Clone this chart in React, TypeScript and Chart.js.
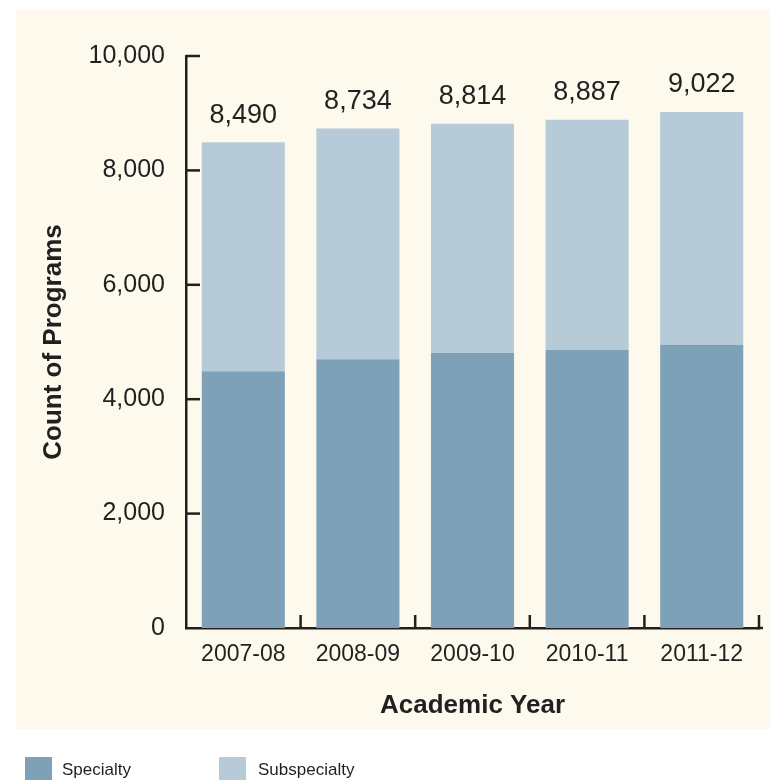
import React, { useEffect, useRef } from "react";
import { Chart, registerables } from "chart.js";

Chart.register(...registerables);

const categories = ["2007-08", "2008-09", "2009-10", "2010-11", "2011-12"];
const specialty = [4490, 4700, 4808, 4860, 4950];
const subspecialty = [4000, 4034, 4006, 4027, 4072];
const yTicks = [0, 2000, 4000, 6000, 8000, 10000];

const TEXT = "#231f20";
const FONT = "'Liberation Sans', Arial, Helvetica, sans-serif";
const SPEC_COLOR = "#7fa1b8";
const SUB_COLOR = "#b7cad7";
const BG = "#fdf9ed";

const decorPlugin = {
  id: "decor",
  beforeDraw(chart: any) {
    const ctx = chart.ctx;
    ctx.save();
    ctx.fillStyle = BG;
    ctx.fillRect(16, 10, 754, 719);
    ctx.restore();
  },
  afterDraw(chart: any) {
    const ctx = chart.ctx;
    const x = chart.scales.x;
    const y = chart.scales.y;
    ctx.save();
    ctx.strokeStyle = TEXT;
    ctx.lineWidth = 2.5;
    yTicks.forEach((v) => {
      if (v === 0) return;
      const py = y.getPixelForValue(v);
      ctx.beginPath();
      ctx.moveTo(x.left, py);
      ctx.lineTo(x.left + 14, py);
      ctx.stroke();
    });
    const n = categories.length;
    const w = (x.right - x.left) / n;
    for (let k = 1; k <= n; k++) {
      const px = x.left + k * w;
      ctx.beginPath();
      ctx.moveTo(px, y.bottom);
      ctx.lineTo(px, y.bottom - 13);
      ctx.stroke();
    }
    ctx.beginPath();
    ctx.moveTo(x.right - 2, y.bottom);
    ctx.lineTo(x.right + 4, y.bottom);
    ctx.stroke();

    const meta = chart.getDatasetMeta(1);
    ctx.fillStyle = TEXT;
    ctx.font = `27px ${FONT}`;
    ctx.textAlign = "center";
    ctx.textBaseline = "middle";
    meta.data.forEach((bar: any, i: number) => {
      const total = specialty[i] + subspecialty[i];
      ctx.fillText(total.toLocaleString("en-US"), bar.x, bar.y - 27);
    });

    const items = chart.data.datasets.map((d: any) => ({ label: d.label, color: d.backgroundColor }));
    const pos = [
      { sx: 25, tx: 62 },
      { sx: 219, tx: 258 },
    ];
    ctx.font = `17px ${FONT}`;
    ctx.textAlign = "left";
    ctx.textBaseline = "middle";
    items.forEach((it: any, i: number) => {
      ctx.fillStyle = it.color;
      ctx.fillRect(pos[i].sx, 757, 27, 27);
      ctx.fillStyle = TEXT;
      ctx.fillText(it.label, pos[i].tx, 770);
    });
    ctx.restore();
  },
};

export default function App() {
  const ref = useRef<HTMLCanvasElement | null>(null);
  useEffect(() => {
    if (!ref.current) return;
    const chart = new Chart(ref.current, {
      type: "bar",
      data: {
        labels: categories,
        datasets: [
          {
            label: "Specialty",
            data: specialty,
            backgroundColor: SPEC_COLOR,
            categoryPercentage: 1,
            barPercentage: 0.725,
          },
          {
            label: "Subspecialty",
            data: subspecialty,
            backgroundColor: SUB_COLOR,
            categoryPercentage: 1,
            barPercentage: 0.725,
          },
        ],
      },
      options: {
        responsive: false,
        animation: false,
        layout: { padding: { left: 0, right: 11, top: 56, bottom: 0 } },
        plugins: {
          legend: { display: false },
          tooltip: { enabled: false },
        },
        scales: {
          x: {
            stacked: true,
            grid: { display: false, drawTicks: false },
            border: { display: true, color: TEXT, width: 2.5 },
            ticks: { color: TEXT, font: { family: FONT, size: 23 }, padding: 13 },
            title: {
              display: true,
              text: "Academic Year",
              color: TEXT,
              font: { family: FONT, size: 26, weight: "bold" },
              padding: { top: 0, bottom: 59 },
            },
            afterFit: (s: any) => {
              s.height = 152;
            },
          },
          y: {
            stacked: true,
            min: 0,
            max: 10000,
            grid: { display: false, drawTicks: false },
            border: { display: true, color: TEXT, width: 2.5 },
            ticks: {
              stepSize: 2000,
              color: TEXT,
              font: { family: FONT, size: 25 },
              padding: 21,
              callback: (v: any) => Number(v).toLocaleString("en-US"),
            },
            title: {
              display: true,
              text: "Count of Programs",
              color: TEXT,
              font: { family: FONT, size: 26, weight: "bold" },
              padding: { top: 38, bottom: 0 },
            },
            afterFit: (s: any) => {
              s.width = 186;
            },
          },
        },
      },
      plugins: [decorPlugin],
    });
    return () => chart.destroy();
  }, []);
  return (
    <div style={{ position: "absolute", left: 0, top: 0, width: 770, height: 780 }}>
      <canvas ref={ref} width={770} height={780} style={{ width: 770, height: 780, display: "block" }} />
    </div>
  );
}
